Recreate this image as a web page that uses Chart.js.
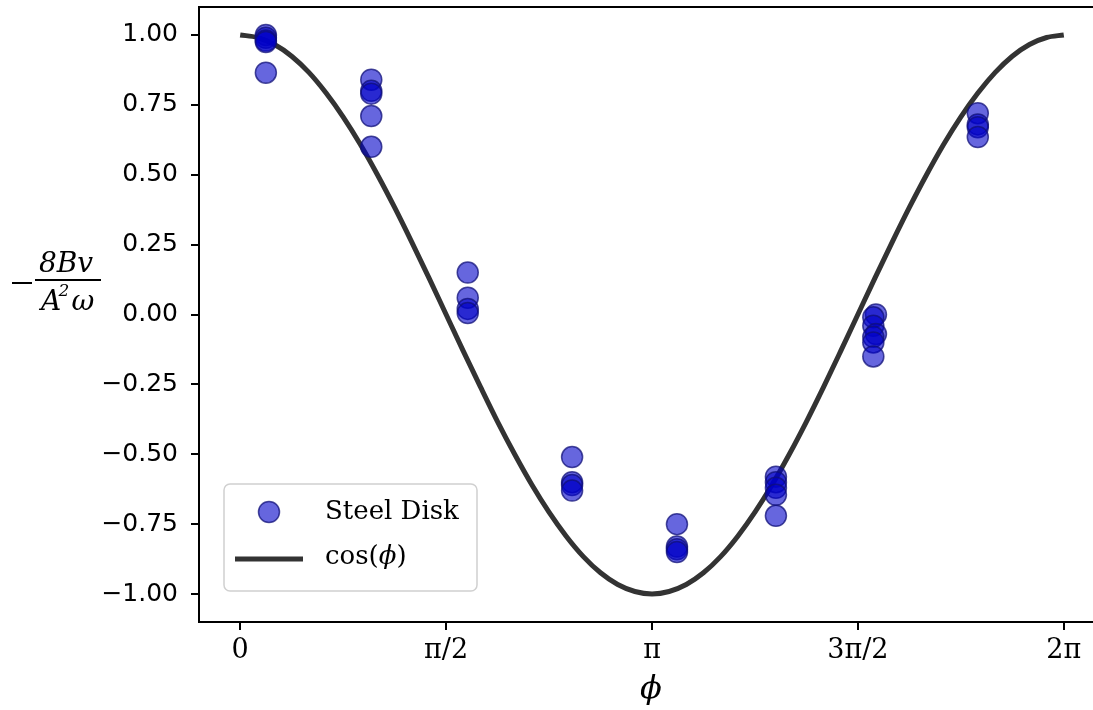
<!DOCTYPE html>
<html>
<head>
<meta charset="utf-8">
<script src="https://cdn.jsdelivr.net/npm/chart.js@4.4.1/dist/chart.umd.min.js"></script>
<style>
  html, body { margin: 0; padding: 0; background: #fff; overflow: hidden; }
  #box { width: 1110px; height: 710px; }
</style>
</head>
<body>
<div id="box"><canvas id="myChart" width="1110" height="710"></canvas></div>
<script>
// measured points (phi in rad, normalised value)
const diskPhi = [
  0.196, 0.196, 0.196, 0.196, 0.196,
  1.0, 1.0, 1.0, 1.0, 1.0,
  1.736, 1.736, 1.736, 1.736,
  2.532, 2.532, 2.532, 2.532,
  3.332, 3.332, 3.332, 3.332,
  4.087, 4.087, 4.087, 4.087, 4.087,
  4.85, 4.83, 4.83, 4.85, 4.83, 4.83, 4.83,
  5.627, 5.627, 5.627, 5.627
];
const diskVal = [
  1.0, 0.99, 0.98, 0.975, 0.865,
  0.84, 0.80, 0.79, 0.71, 0.60,
  0.15, 0.06, 0.02, 0.005,
  -0.51, -0.60, -0.61, -0.63,
  -0.75, -0.83, -0.84, -0.85,
  -0.58, -0.60, -0.62, -0.645, -0.72,
  0.0, -0.01, -0.04, -0.07, -0.08, -0.10, -0.15,
  0.72, 0.68, 0.67, 0.635
];

// cos(phi) curve read at pi/24 steps
const curvePhi = [0, 0.131, 0.262, 0.393, 0.524, 0.654, 0.785, 0.916, 1.047, 1.178, 1.309, 1.440,
  1.571, 1.702, 1.833, 1.963, 2.094, 2.225, 2.356, 2.487, 2.618, 2.749, 2.880, 3.011,
  3.142, 3.272, 3.403, 3.534, 3.665, 3.796, 3.927, 4.058, 4.189, 4.320, 4.451, 4.581,
  4.712, 4.843, 4.974, 5.105, 5.236, 5.367, 5.498, 5.629, 5.760, 5.890, 6.021, 6.152, 6.283];
const curveVal = [1, 0.991, 0.966, 0.924, 0.866, 0.793, 0.707, 0.609, 0.5, 0.383, 0.259, 0.131,
  0, -0.131, -0.259, -0.383, -0.5, -0.609, -0.707, -0.793, -0.866, -0.924, -0.966, -0.991,
  -1, -0.991, -0.966, -0.924, -0.866, -0.793, -0.707, -0.609, -0.5, -0.383, -0.259, -0.131,
  0, 0.131, 0.259, 0.383, 0.5, 0.609, 0.707, 0.793, 0.866, 0.924, 0.966, 0.991, 1];

const xTickVals = [0, 1.5708, 3.1416, 4.7124, 6.2832];
const xTickLabels = ['0', 'π/2', 'π', '3π/2', '2π'];
const yTickVals = [-1, -0.75, -0.5, -0.25, 0, 0.25, 0.5, 0.75, 1];

const pointFill = 'rgba(0, 0, 200, 0.6)';
const pointEdge = 'rgba(15, 15, 120, 0.75)';
const lineColor = '#333333';

function noPad(s) {
  s.paddingTop = 0; s.paddingBottom = 0; s.paddingLeft = 0; s.paddingRight = 0;
}

const extras = {
  id: 'extras',
  afterDraw(chart) {
    const { ctx, chartArea: { left, right, top } } = chart;
    ctx.save();
    // top spine
    ctx.strokeStyle = '#000';
    ctx.lineWidth = 2;
    ctx.beginPath();
    ctx.moveTo(left, top);
    ctx.lineTo(right, top);
    ctx.stroke();

    // y label: -8Bv / (A^2 omega)
    ctx.fillStyle = '#000';
    ctx.textBaseline = 'alphabetic';
    ctx.font = 'italic 28px "DejaVu Serif"';
    ctx.textAlign = 'center';
    ctx.fillText('8Bv', 66, 272);
    ctx.fillText('A', 51, 310);
    ctx.font = 'italic 17px "DejaVu Serif"';
    ctx.fillText('2', 64, 296);
    ctx.font = 'italic 28px "DejaVu Serif"';
    ctx.fillText('ω', 83, 310);
    ctx.fillRect(35, 279, 66, 2);
    ctx.fillRect(12, 282, 20, 2);

    // x label
    ctx.font = 'italic 32px "DejaVu Serif"';
    ctx.textBaseline = 'middle';
    ctx.fillText('ϕ', 651, 690);

    // legend
    const bx = 224, by = 484, bw = 253, bh = 107, r = 6;
    ctx.beginPath();
    ctx.moveTo(bx + r, by);
    ctx.arcTo(bx + bw, by, bx + bw, by + bh, r);
    ctx.arcTo(bx + bw, by + bh, bx, by + bh, r);
    ctx.arcTo(bx, by + bh, bx, by, r);
    ctx.arcTo(bx, by, bx + bw, by, r);
    ctx.closePath();
    ctx.fillStyle = 'rgba(255,255,255,0.8)';
    ctx.fill();
    ctx.strokeStyle = '#d0d0d0';
    ctx.lineWidth = 1.5;
    ctx.stroke();

    ctx.beginPath();
    ctx.arc(269, 512, 10.5, 0, Math.PI * 2);
    ctx.fillStyle = pointFill;
    ctx.fill();
    ctx.strokeStyle = pointEdge;
    ctx.lineWidth = 1.5;
    ctx.stroke();

    ctx.strokeStyle = lineColor;
    ctx.lineWidth = 5;
    ctx.beginPath();
    ctx.moveTo(235, 559);
    ctx.lineTo(303, 559);
    ctx.stroke();

    ctx.fillStyle = '#000';
    ctx.font = '26px "DejaVu Serif"';
    ctx.textAlign = 'left';
    ctx.fillText('Steel Disk', 325, 512);
    ctx.fillText('cos(', 325, 557);
    let w = ctx.measureText('cos(').width;
    ctx.font = 'italic 26px "DejaVu Serif"';
    ctx.fillText('ϕ', 325 + w, 557);
    w += ctx.measureText('ϕ').width;
    ctx.font = '26px "DejaVu Serif"';
    ctx.fillText(')', 325 + w, 557);
    ctx.restore();
  }
};

const config = {
  type: 'scatter',
  data: {
    datasets: [
      {
        label: 'Steel Disk',
        data: diskPhi.map((p, i) => ({ x: p, y: diskVal[i] })),
        backgroundColor: pointFill,
        borderColor: pointEdge,
        borderWidth: 1.5,
        pointRadius: 10.5,
        order: 0
      },
      {
        label: 'cos(ϕ)',
        type: 'line',
        data: curvePhi.map((p, i) => ({ x: p, y: curveVal[i] })),
        borderColor: lineColor,
        borderWidth: 5,
        pointRadius: 0,
        fill: false,
        cubicInterpolationMode: 'monotone',
        order: 1
      }
    ]
  },
  options: {
    responsive: false,
    animation: false,
    layout: { autoPadding: false, padding: { top: 7, right: 5, left: 0, bottom: 0 } },
    plugins: { legend: { display: false }, tooltip: { enabled: false } },
    scales: {
      x: {
        type: 'linear',
        min: -0.1 * Math.PI,
        max: 2.1 * Math.PI,
        afterFit: (s) => { s.height = 88; noPad(s); },
        afterBuildTicks: (s) => { s.ticks = xTickVals.map(v => ({ value: v })); },
        ticks: {
          color: '#000',
          font: { family: 'DejaVu Serif', size: 27 },
          padding: 5,
          maxRotation: 0,
          autoSkip: false,
          callback: (v, i) => xTickLabels[i]
        },
        grid: { display: true, drawOnChartArea: false, drawTicks: true, tickLength: 8, color: '#000', lineWidth: 2 },
        border: { display: true, color: '#000', width: 2 }
      },
      y: {
        min: -1.1,
        max: 1.1,
        afterFit: (s) => { s.width = 199; noPad(s); },
        afterBuildTicks: (s) => { s.ticks = yTickVals.map(v => ({ value: v })); },
        ticks: {
          color: '#000',
          font: { family: 'DejaVu Sans', size: 25 },
          padding: 13,
          autoSkip: false,
          callback: (v) => (v < 0 ? '−' : '') + Math.abs(v).toFixed(2)
        },
        grid: { display: true, drawOnChartArea: false, drawTicks: true, tickLength: 8, color: '#000', lineWidth: 2 },
        border: { display: true, color: '#000', width: 2 }
      }
    }
  },
  plugins: [extras]
};

new Chart(document.getElementById('myChart'), config);
</script>
</body>
</html>
